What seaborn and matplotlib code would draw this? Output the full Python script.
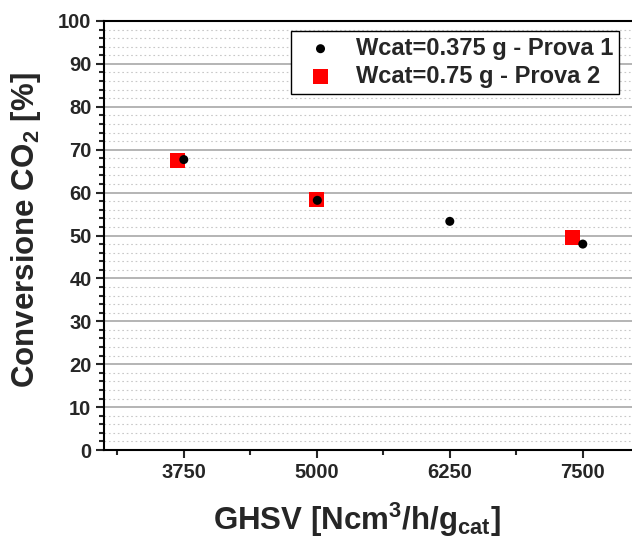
import matplotlib
matplotlib.use("Agg")
import matplotlib.pyplot as plt
import seaborn as sns
import pandas as pd
from matplotlib.ticker import MultipleLocator, FixedLocator

sns.set_style("white")
plt.rcParams['font.family'] = ['Liberation Sans', 'DejaVu Sans']
plt.rcParams['font.weight'] = 'bold'
plt.rcParams['mathtext.fontset'] = 'custom'
plt.rcParams['mathtext.rm'] = 'Liberation Sans:bold'
plt.rcParams['mathtext.it'] = 'Liberation Sans:bold'
plt.rcParams['mathtext.bf'] = 'Liberation Sans:bold'
plt.rcParams['mathtext.default'] = 'rm'

# Data
ghsv_p1 = [3750, 5005, 6250, 7500]
conv_p1 = [67.7, 58.2, 53.3, 48.0]
ghsv_p2 = [3690, 5000, 7400]
conv_p2 = [67.5, 58.4, 49.5]
label_p1 = "Wcat=0.375 g - Prova 1"
label_p2 = "Wcat=0.75 g - Prova 2"
xticks = [3750, 5000, 6250, 7500]

df1 = pd.DataFrame({"x": ghsv_p1, "y": conv_p1})
df2 = pd.DataFrame({"x": ghsv_p2, "y": conv_p2})

fig = plt.figure(figsize=(6.32, 5.4), dpi=100)
ax = fig.add_axes([104/632, 1-450/540, (636-104)/632, (450-21)/540])

sns.scatterplot(data=df2, x="x", y="y", ax=ax, marker="s", color="#ff0000",
                s=11**2, edgecolor="none", label=label_p2, zorder=3)
sns.scatterplot(data=df1, x="x", y="y", ax=ax, marker="o", color="black",
                s=6.5**2, edgecolor="none", label=label_p1, zorder=4)

ax.set_xlim(3000, 8000)
ax.set_ylim(0, 100)
ax.xaxis.set_major_locator(FixedLocator(xticks))
ax.xaxis.set_minor_locator(FixedLocator([3125, 4375, 5625, 6875]))
ax.yaxis.set_major_locator(MultipleLocator(10))
ax.yaxis.set_minor_locator(MultipleLocator(2))

ax.grid(which='major', axis='y', color='#a8a8a8', linewidth=1.2, linestyle='-')
ax.grid(which='minor', axis='y', color='#c8c8c8', linewidth=0.8, linestyle=(0, (1.5, 2.5)))
ax.set_axisbelow(True)

for sp in ax.spines.values():
    sp.set_linewidth(1.5)
    sp.set_color('black')

ax.tick_params(which='major', direction='out', length=6, width=1.5, labelsize=14.5,
               left=True, bottom=True, pad=3)
ax.tick_params(which='minor', direction='out', length=3.5, width=1.5, left=True, bottom=True)
for lbl in ax.get_xticklabels() + ax.get_yticklabels():
    lbl.set_fontweight('bold')

ax.set_xlabel("GHSV [Ncm$^3$/h/g$_{cat}$]", fontsize=22.5, fontweight='bold')
ax.set_ylabel("Conversione CO$_2$ [%]", fontsize=22.5, fontweight='bold')
ax.xaxis.set_label_coords((357-104)/532, -(501-450)/429)
ax.yaxis.set_label_coords(-(104-43)/532, (450-230)/429)

handles, labels = ax.get_legend_handles_labels()
order = [1, 0]
leg = ax.legend([handles[i] for i in order], [labels[i] for i in order],
                loc='upper left', bbox_to_anchor=((291-104)/532, 1-(31-21)/429),
                frameon=True, fancybox=False, edgecolor='black', framealpha=1,
                prop={'weight': 'bold', 'size': 17}, handletextpad=0.5,
                borderpad=0.25, labelspacing=0.2, borderaxespad=0, markerscale=1.0)
leg.get_frame().set_linewidth(1.0)

fig.savefig("out.png", dpi=100)
